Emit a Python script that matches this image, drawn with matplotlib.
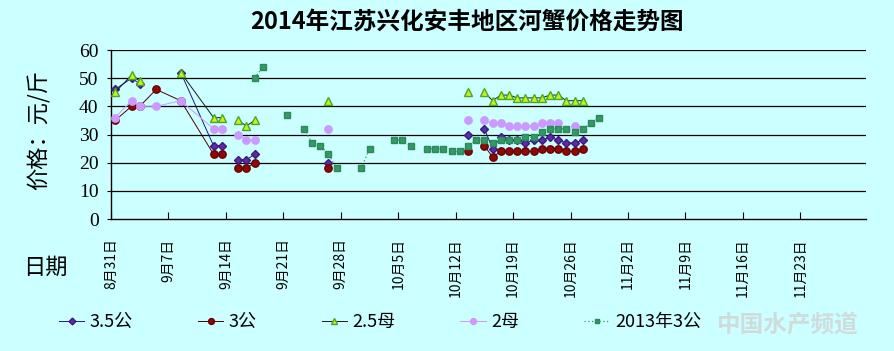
import datetime as dt
import numpy as np
import matplotlib
matplotlib.use("Agg")
import matplotlib.pyplot as plt

plt.rcParams['font.family'] = ['Noto Sans CJK SC', 'DejaVu Sans']

# recorded dates (rows of the sheet); empty rows break the lines
dates = ['8/31', '9/2', '9/3', '9/5', '9/8', '9/12', '9/13', '9/14', '9/15', '9/16',
         '9/17', '9/18', '9/19', '9/21', '9/22', '9/23', '9/24', '9/25', '9/26', '9/27',
         '9/28', '9/30', '10/1', '10/2', '10/4', '10/5', '10/6', '10/7', '10/8', '10/9',
         '10/10', '10/11', '10/12', '10/13', '10/14', '10/15', '10/16', '10/17', '10/18', '10/19',
         '10/20', '10/21', '10/22', '10/23', '10/24', '10/25', '10/26', '10/27', '10/28', '10/29']

N = None
gong35 = [46, 50, 48, N, 52, 26, 26, N, 21, 21,
          23, N, N, N, N, N, N, N, 20, N,
          N, N, N, N, N, N, N, N, N, N,
          N, N, N, 30, N, 32, 25, 29, 28, 28,
          27, 28, 28, 29, 28, 27, 27, 28, N, N]
gong3 = [35, 40, 40, 46, 42, 23, 23, N, 18, 18,
         20, N, N, N, N, N, N, N, 18, N,
         N, N, N, N, N, N, N, N, N, N,
         N, N, N, 24, N, 26, 22, 24, 24, 24,
         24, 24, 25, 25, 25, 24, 24, 25, N, N]
mu25 = [45, 51, 49, N, 52, 36, 36, N, 35, 33,
        35, N, N, N, N, N, N, N, 42, N,
        N, N, N, N, N, N, N, N, N, N,
        N, N, N, 45, N, 45, 42, 44, 44, 43,
        43, 43, 43, 44, 44, 42, 42, 42, N, N]
mu2 = [36, 42, 40, 40, 42, 32, 32, N, 30, 28,
       28, N, N, N, N, N, N, N, 32, N,
       N, N, N, N, N, N, N, N, N, N,
       N, N, N, 35, N, 35, 34, 34, 33, 33,
       33, 33, 34, 34, 34, N, 33, N, N, N]
gong3_2013 = [N, N, N, N, N, N, N, N, N, N,
              50, 54, N, 37, N, 32, 27, 26, 23, 18,
              N, 18, 25, N, 28, 28, 26, N, 25, 25,
              25, 24, 24, 26, 28, 28, 27, 28, 28, 28,
              29, 29, 31, 32, 32, 32, 31, 32, 34, 36]

tick_dates = ['8/31', '9/7', '9/14', '9/21', '9/28', '10/5', '10/12', '10/19', '10/26',
              '11/2', '11/9', '11/16', '11/23']

start = dt.date(2014, 8, 31)


def day_num(s):
    m, d = s.split('/')
    return (dt.date(2014, int(m), int(d)) - start).days


def arr(v):
    return np.array([np.nan if a is None else a for a in v], dtype=float)


x = np.array([day_num(s) for s in dates])

bg = '#CCFFFF'
fig = plt.figure(figsize=(8.94, 3.51), dpi=100, facecolor=bg)
ax = fig.add_axes([111/894, 1-219/351, (866-111)/894, (219-50)/351], facecolor=bg)

for yv in range(10, 61, 10):
    ax.axhline(yv, color='black', lw=0.9, zorder=1)

ax.plot(x, arr(gong35), color='#1a1a80', lw=0.7, marker='D', ms=4.3,
        mfc='#5b2ca8', mec='#3a1a80', label='3.5公', zorder=3)
ax.plot(x, arr(gong3), color='#4a0000', lw=0.7, marker='o', ms=5.3,
        mfc='#8b0a0a', mec='#6a0000', label='3公', zorder=3)
ax.plot(x, arr(mu25), color='#1a1a1a', lw=0.7, marker='^', ms=5.8,
        mfc='#ccee22', mec='#44aa22', label='2.5母', zorder=3)
ax.plot(x, arr(mu2), color='#cc99ff', lw=0.7, marker='o', ms=5.3,
        mfc='#cc99ff', mec='#cc99ff', label='2母', zorder=3)
ax.plot(x, arr(gong3_2013), color='#339966', lw=0.9, ls=(0, (1, 2)), marker='s', ms=3.8,
        mfc='#339966', mec='#2a8a5a', label='2013年3公', zorder=3)

ax.set_xlim(-0.5, 91.5)
ax.set_ylim(0, 60)
ax.set_yticks(range(0, 61, 10))
ax.set_yticklabels([str(v) for v in range(0, 61, 10)], family='Liberation Serif', fontsize=14)

tick_pos = [day_num(s) - 0.5 for s in tick_dates]
tick_lab = ['%s月%s日' % tuple(s.split('/')) for s in tick_dates]
ax.set_xticks(tick_pos)
ax.set_xticklabels(tick_lab, rotation=90, fontsize=10)
ax.tick_params(axis='x', direction='in', length=5, pad=14, color='black')
ax.tick_params(axis='y', direction='out', length=3, pad=6, color='black')

for s in ['top', 'right']:
    ax.spines[s].set_visible(False)
for s in ['left', 'bottom']:
    ax.spines[s].set_color('black')
    ax.spines[s].set_linewidth(1)

fig.text(467/894, 1-22/351, '2014年江苏兴化安丰地区河蟹价格走势图', ha='center', va='center',
         fontsize=17, fontweight='bold')
fig.text(39/894, 1-130/351, '价格：元/斤', rotation=90, ha='center', va='center', fontsize=16)
fig.text(45/894, 1-267/351, '日期', ha='center', va='center', fontsize=16)

fig.legend(loc='center', bbox_to_anchor=(380/894, 1-322/351), ncol=5, frameon=False,
           fontsize=13, handlelength=1.4, handletextpad=0.3, columnspacing=3.6,
           markerscale=0.8)

# site watermark
fig.text(788/894, 1-325/351, '中国水产频道', ha='center', va='center', fontsize=17,
         fontweight='bold', style='italic', color='#d0dcdc')

fig.savefig('out.png', dpi=100, facecolor=bg)
